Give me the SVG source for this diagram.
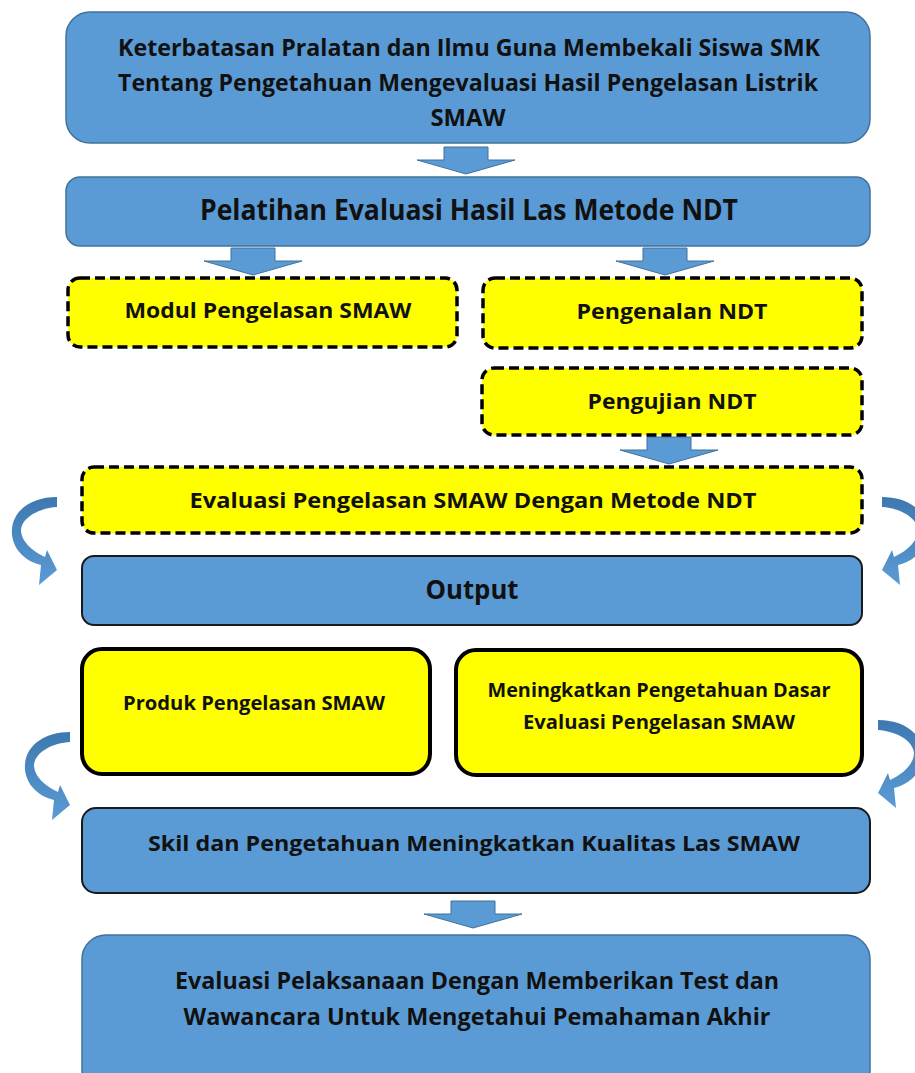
<svg xmlns="http://www.w3.org/2000/svg" width="915" height="1073" viewBox="0 0 915 1073">
<style>
.blue{fill:#5B9BD5;stroke:#41719C;stroke-width:1.5}
.blueK{fill:#5B9BD5;stroke:#1a1a1a;stroke-width:2}
.dash{fill:#FFFF00;stroke:#000;stroke-width:3.5;stroke-dasharray:10 5}
.yel{fill:#FFFF00;stroke:#000;stroke-width:4}
.t{font-family:"Open Sans","Liberation Sans",sans-serif;font-weight:bold;fill:#111;text-anchor:middle}
.ba{fill:#5B9BD5;stroke:#41719C;stroke-width:1}
.ca{fill:url(#cg)}
</style>
<defs>
<linearGradient id="cg" x1="0" y1="0" x2="0" y2="1">
<stop offset="0" stop-color="#3E78B0"/>
<stop offset="1" stop-color="#5B9BD5"/>
</linearGradient>
<path id="dn" d="M-22,0 L22,0 L22,13 L49,13 L0,27 L-49,13 L-22,13 Z"/>
<path id="cv" d="M57,497 C30,497 10,512 12,535 C14,552 28,562 41,565 L39,585 L57,570 L47,550 L45,557 C32,551 21,541 21,530 C22,517 40,508 57,507 Z"/>
</defs>
<g id="connectors">
<use href="#dn" class="ba" x="466" y="147"/>
<use href="#dn" class="ba" x="253" y="248"/>
<use href="#dn" class="ba" x="665" y="248"/>
<use href="#dn" class="ba" x="669" y="437"/>
<use href="#dn" class="ba" x="473" y="901"/>
<use href="#cv" class="ca"/>
<use href="#cv" class="ca" transform="translate(939,0) scale(-1,1)"/>
<use href="#cv" class="ca" transform="translate(13,235)"/>
<use href="#cv" class="ca" transform="translate(935,223) scale(-1,1)"/>
</g>
<g id="n1">
<rect class="blue" x="66" y="12" width="804" height="131" rx="24"/>
<text class="t" x="469" y="56" font-size="24" textLength="702" lengthAdjust="spacingAndGlyphs">Keterbatasan Pralatan dan Ilmu Guna Membekali Siswa SMK</text>
<text class="t" x="468" y="91" font-size="24" textLength="700" lengthAdjust="spacingAndGlyphs">Tentang Pengetahuan Mengevaluasi Hasil Pengelasan Listrik</text>
<text class="t" x="468" y="126" font-size="24" textLength="75" lengthAdjust="spacingAndGlyphs">SMAW</text>
</g>
<g id="n2">
<rect class="blue" x="66" y="177" width="804" height="69" rx="14"/>
<text class="t" x="469" y="220" font-size="28" textLength="538" lengthAdjust="spacingAndGlyphs">Pelatihan Evaluasi Hasil Las Metode NDT</text>
</g>
<g id="n3">
<rect class="dash" x="68" y="278" width="389" height="69" rx="12"/>
<text class="t" x="268" y="318" font-size="22" textLength="287" lengthAdjust="spacingAndGlyphs">Modul Pengelasan SMAW</text>
</g>
<g id="n4">
<rect class="dash" x="483" y="278" width="379" height="70" rx="12"/>
<text class="t" x="672" y="319" font-size="22" textLength="191" lengthAdjust="spacingAndGlyphs">Pengenalan NDT</text>
</g>
<g id="n5">
<rect class="dash" x="482" y="368" width="380" height="67" rx="12"/>
<text class="t" x="672" y="409" font-size="22" textLength="169" lengthAdjust="spacingAndGlyphs">Pengujian NDT</text>
</g>
<g id="n6">
<rect class="dash" x="82" y="467" width="780" height="66" rx="12"/>
<text class="t" x="473" y="508" font-size="22" textLength="567" lengthAdjust="spacingAndGlyphs">Evaluasi Pengelasan SMAW Dengan Metode NDT</text>
</g>
<g id="n7">
<rect class="blueK" x="82" y="556" width="780" height="69" rx="12"/>
<text class="t" x="472" y="599" font-size="26" textLength="93" lengthAdjust="spacingAndGlyphs">Output</text>
</g>
<g id="n8">
<rect class="yel" x="82" y="649" width="348" height="125" rx="20"/>
<text class="t" x="254" y="710" font-size="20" textLength="262" lengthAdjust="spacingAndGlyphs">Produk Pengelasan SMAW</text>
</g>
<g id="n9">
<rect class="yel" x="456" y="650" width="406" height="125" rx="20"/>
<text class="t" x="659" y="697" font-size="20" textLength="343" lengthAdjust="spacingAndGlyphs">Meningkatkan Pengetahuan Dasar</text>
<text class="t" x="659" y="729" font-size="20" textLength="272" lengthAdjust="spacingAndGlyphs">Evaluasi Pengelasan SMAW</text>
</g>
<g id="n10">
<rect class="blueK" x="82" y="808" width="788" height="85" rx="14"/>
<text class="t" x="474" y="851" font-size="22" textLength="652" lengthAdjust="spacingAndGlyphs">Skil dan Pengetahuan Meningkatkan Kualitas Las SMAW</text>
</g>
<g id="n11">
<rect class="blue" x="82" y="935" width="788" height="160" rx="24"/>
<text class="t" x="477" y="989" font-size="24" textLength="604" lengthAdjust="spacingAndGlyphs">Evaluasi Pelaksanaan Dengan Memberikan Test dan</text>
<text class="t" x="477" y="1025" font-size="24" textLength="587" lengthAdjust="spacingAndGlyphs">Wawancara Untuk Mengetahui Pemahaman Akhir</text>
</g>
</svg>
